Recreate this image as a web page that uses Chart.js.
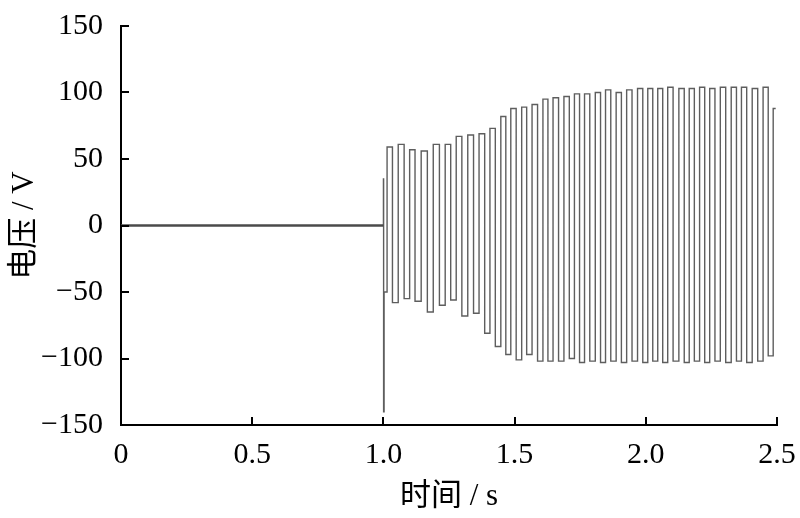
<!DOCTYPE html>
<html>
<head>
<meta charset="utf-8">
<script src="https://cdn.jsdelivr.net/npm/chart.js@4"></script>
<style>
  html, body { margin: 0; padding: 0; background: #fff; }
  #wrap { width: 800px; height: 518px; }
</style>
</head>
<body>
<div id="wrap"><canvas id="cVolt" width="800" height="518"></canvas></div>
<script>
// ---- datos ----
const xTicks = [0, 0.5, 1.0, 1.5, 2.0, 2.5];
const yTicks = [-150, -100, -50, 0, 50, 100, 150];

// tramo en reposo + transitorio al conectar (t = 1.0 s)
const restT = [0, 1.0];
const restV = [0, 0];
const transT = [1.0, 1.0004, 1.0012, 1.004];
const transV = [0, 35, -140, -50];

// crestas
const peakT = [1.024, 1.068, 1.110, 1.157, 1.202, 1.246, 1.288, 1.333, 1.375, 1.415,
  1.457, 1.495, 1.537, 1.578, 1.619, 1.658, 1.699, 1.738, 1.776, 1.818,
  1.856, 1.897, 1.937, 1.979, 2.017, 2.055, 2.093, 2.137, 2.175, 2.215,
  2.253, 2.294, 2.336, 2.374, 2.416, 2.457, 2.495];
const peakV = [59, 61, 57, 56, 61, 61, 67, 68, 69, 73,
  82, 88, 89, 91, 95, 96, 97, 99, 99, 100,
  102, 100, 102, 103, 103, 103, 104, 103, 103, 104,
  103, 104, 104, 104, 103, 104, 88];

// valles
const troughT = [1.045, 1.090, 1.131, 1.178, 1.225, 1.267, 1.310, 1.354, 1.397, 1.438,
  1.476, 1.517, 1.555, 1.597, 1.635, 1.677, 1.718, 1.757, 1.797, 1.837,
  1.877, 1.917, 1.958, 1.998, 2.036, 2.074, 2.115, 2.156, 2.195, 2.234,
  2.274, 2.315, 2.355, 2.395, 2.437, 2.476];
const troughV = [-58, -55, -57, -65, -60, -56, -68, -66, -81, -91,
  -97, -101, -97, -102, -102, -102, -100, -103, -102, -103,
  -102, -103, -102, -103, -102, -103, -102, -103, -102, -103,
  -102, -103, -102, -103, -102, -98];

// puntos {x,y} a partir de las listas
const restPts = restT.map((t, i) => ({ x: t, y: restV[i] }));
const oscPts = transT.map((t, i) => ({ x: t, y: transV[i] }));
for (let i = 0; i < peakT.length; i++) {
  oscPts.push({ x: peakT[i], y: peakV[i] });
  if (i < troughT.length) oscPts.push({ x: troughT[i], y: troughV[i] });
}

const serif = "'Liberation Serif', 'Times New Roman', 'Noto Sans CJK SC', serif";
const fmtNum = v => (v < 0 ? '\u2212' + Math.abs(v) : String(v));

// marcas de eje hacia dentro
const innerTicks = {
  id: 'innerTicks',
  afterDraw(chart) {
    const { ctx, scales: { x, y } } = chart;
    ctx.save();
    ctx.strokeStyle = '#000';
    ctx.lineWidth = 2;
    ctx.beginPath();
    xTicks.forEach(v => {
      const px = Math.round(x.getPixelForValue(v));
      ctx.moveTo(px, y.bottom); ctx.lineTo(px, y.bottom - 8);
    });
    yTicks.forEach(v => {
      const py = Math.round(y.getPixelForValue(v));
      ctx.moveTo(x.left, py); ctx.lineTo(x.left + 8, py);
    });
    ctx.stroke();
    ctx.restore();
  }
};

new Chart('cVolt', {
  type: 'line',
  data: {
    datasets: [
      { data: restPts, borderColor: '#4a4a4a', borderWidth: 2.5, pointRadius: 0, tension: 0 },
      { data: oscPts, borderColor: '#5e5e5e', borderWidth: 1.4, pointRadius: 0, stepped: 'middle' }
    ]
  },
  options: {
    responsive: false, animation: false,
    layout: { padding: { top: 26, right: 23, left: 0, bottom: 0 } },
    plugins: { legend: { display: false }, tooltip: { enabled: false } },
    scales: {
      x: {
        type: 'linear', min: 0, max: 2.5,
        afterBuildTicks: s => { s.ticks = xTicks.map(v => ({ value: v })); },
        afterFit: s => { s.height = 93; s.paddingLeft = 0; s.paddingRight = 0; },
        grid: { display: false, drawTicks: false },
        border: { display: true, color: '#000', width: 2 },
        ticks: {
          padding: 12, color: '#000', maxRotation: 0,
          font: { family: serif, size: 30 },
          callback: v => (v === 0 ? '0' : v.toFixed(1))
        },
        title: {
          display: true, text: '时间 / s', color: '#000',
          font: { family: serif, size: 31 }, padding: { top: 0, bottom: 3 }
        }
      },
      y: {
        type: 'linear', min: -150, max: 150,
        afterBuildTicks: s => { s.ticks = yTicks.map(v => ({ value: v })); },
        afterFit: s => { s.width = 121; s.paddingTop = 0; s.paddingBottom = 0; },
        grid: { display: false, drawTicks: false },
        border: { display: true, color: '#000', width: 2 },
        ticks: {
          padding: 18, color: '#000',
          font: { family: serif, size: 30 },
          callback: v => fmtNum(v)
        },
        title: {
          display: true, text: '电压 / V', color: '#000',
          font: { family: serif, size: 31 }, padding: { top: 6, bottom: 0 }
        }
      }
    }
  },
  plugins: [innerTicks]
});
</script>
</body>
</html>
